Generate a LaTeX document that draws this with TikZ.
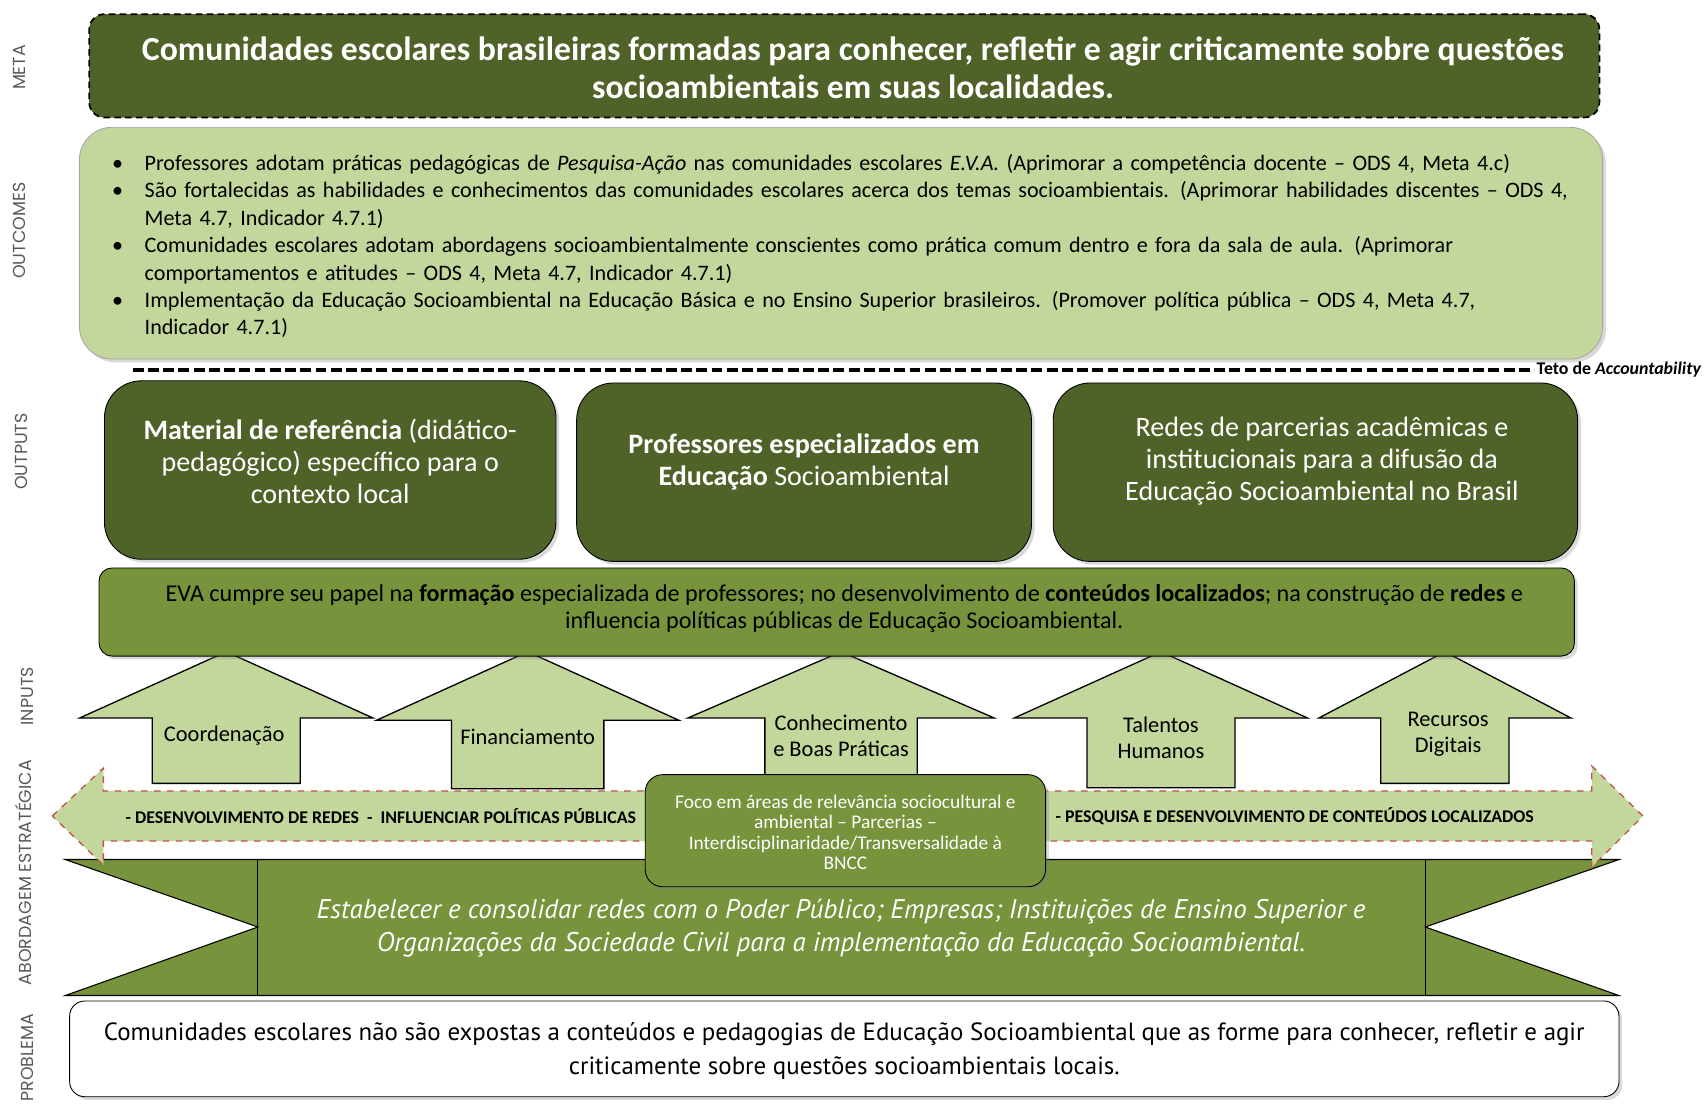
\documentclass[tikz,border=0pt]{standalone}
\usepackage{fontspec}
\setmainfont{Carlito}
\newfontfamily\sidefont{Poppins}
\newfontfamily\probfont{PT Sans}
\usetikzlibrary{shadows}
\definecolor{darkolive}{HTML}{4F6228}
\definecolor{lightolive}{HTML}{C3D69B}
\definecolor{midolive}{HTML}{77933C}
\definecolor{dashred}{HTML}{C0504D}
\definecolor{sidegray}{HTML}{595959}
\begin{document}
\begin{tikzpicture}[x=0.5pt,y=-0.5pt,
    boxshadow/.style={drop shadow={shadow xshift=1.5pt,shadow yshift=-1.5pt,opacity=0.3}},
    side/.style={rotate=90,font=\sidefont\fontsize{8}{9}\selectfont,text=sidegray},
    metabox/.style={draw=black,densely dashed,line width=0.8pt,fill=darkolive,rounded corners=7pt,inner sep=0pt},
    outcbox/.style={draw=gray!70,fill=lightolive,rounded corners=15pt,inner sep=0pt,boxshadow},
    outbox/.style={draw=black,fill=darkolive,rounded corners=17pt,inner sep=0pt,boxshadow},
    evabox/.style={draw=black,fill=midolive,rounded corners=6pt,inner sep=0pt,boxshadow},
    focobox/.style={draw=black,fill=midolive,rounded corners=8pt,inner sep=0pt,boxshadow},
    probbox/.style={draw=black,fill=white,rounded corners=7pt,inner sep=0pt,boxshadow},
    inarrow/.style={draw=black,fill=lightolive,line width=0.6pt},
    dblarrow/.style={draw=dashred,dashed,fill=lightolive,line width=0.6pt},
    ribbon/.style={draw=black,fill=midolive,line width=0.5pt},
    whitetxt/.style={text=white,align=center,inner sep=0pt},
    outtxt/.style={whitetxt,font=\fontsize{12.9}{14.75}\selectfont},
    intxt/.style={align=center,inner sep=0pt,font=\fontsize{10.3}{12}\selectfont},
    dbltxt/.style={inner sep=0pt,font=\bfseries\fontsize{8.2}{9}\selectfont}]
  \useasboundingbox (0,0) rectangle (1568,1017);
  \node[side] (lmeta) at (18,62) {META};
  \node[side] (loutc) at (18,212) {OUTCOMES};
  \node[side] (lout) at (20,415) {OUTPUTS};
  \node[side] (lin) at (25,640) {INPUTS};
  \node[side] (labord) at (22,802) {ABORDAGEM ESTRATÉGICA};
  \node[side] (lprob) at (25,972) {PROBLEMA};
  \node[metabox,minimum width=694pt,minimum height=47.5pt] (meta) at (776,60.5) {};
  \node[whitetxt,font=\bfseries\fontsize{15.5}{17.5}\selectfont] (metatxt) at (784,62)
    {Comunidades escolares brasileiras formadas para conhecer, refletir e agir criticamente sobre questões\\socioambientais em suas localidades.};
  \node[outcbox,minimum width=700pt,minimum height=106.5pt] (outc) at (773,223.5) {};
  \node[inner sep=0pt,text width=680pt,font=\fontsize{10.15}{12.6}\selectfont] (outctxt) at (783,221)
    {\begin{list}{\textbullet\hfill}{\leftmargin=15pt\labelwidth=15pt\labelsep=0pt\itemsep=0pt\topsep=0pt\parsep=0pt\partopsep=0pt}
     \item Professores adotam práticas pedagógicas de \textit{Pesquisa-Ação} nas comunidades escolares \textit{E.V.A.} (Aprimorar a competência docente – ODS 4, Meta 4.c)
     \item São fortalecidas as habilidades e conhecimentos das comunidades escolares acerca dos temas socioambientais. (Aprimorar habilidades discentes – ODS 4,\newline Meta 4.7, Indicador 4.7.1)
     \item Comunidades escolares adotam abordagens socioambientalmente conscientes como prática comum dentro e fora da sala de aula. (Aprimorar\newline comportamentos e atitudes – ODS 4, Meta 4.7, Indicador 4.7.1)
     \item Implementação da Educação Socioambiental na Educação Básica e no Ensino Superior brasileiros. (Promover política pública – ODS 4, Meta 4.7,\newline Indicador 4.7.1)
     \end{list}};
  \coordinate (tetoL) at (122,340);
  \coordinate (tetoR) at (1410,340);
  \draw[line width=1.5pt,dash pattern=on 5pt off 2pt] (tetoL) -- (tetoR);
  \node[anchor=west,inner sep=1pt,font=\bfseries\fontsize{8.2}{9}\selectfont] (teto) at (tetoR) {Teto de \textit{Accountability}};
  \node[outbox,minimum width=207.5pt,minimum height=82pt] (out1) at (303.5,432) {};
  \node[outbox,minimum width=209pt,minimum height=82pt] (out2) at (739,434) {};
  \node[outbox,minimum width=241pt,minimum height=82pt] (out3) at (1209,434) {};
  \node[outtxt] (out1txt) at (303.5,424) {\textbf{Material de referência} (didático-\\pedagógico) específico para o\\contexto local};
  \node[outtxt] (out2txt) at (739,425) {\textbf{Professores especializados em}\\\textbf{Educação} Socioambiental};
  \node[outtxt] (out3txt) at (1215,424) {Redes de parcerias acadêmicas e\\institucionais para a difusão da\\Educação Socioambiental no Brasil};
  \foreach \cx/\hy/\hw/\sw/\by in {208/660/135/68/720, 485/662/139/70/725, 773/660/141/70/712, 1067/660/135/68/724, 1328/660/116/59/720}
    \draw[inarrow] (\cx,599) -- (\cx+\hw,\hy) -- (\cx+\sw,\hy) -- (\cx+\sw,\by) -- (\cx-\sw,\by) -- (\cx-\sw,\hy) -- (\cx-\hw,\hy) -- cycle;
  \node[intxt] (coord) at (206,676) {Coordenação};
  \node[intxt] (finan) at (485,677) {Financiamento};
  \node[intxt] (conhec) at (773,676) {Conhecimento\\e Boas Práticas};
  \node[intxt] (talent) at (1067,678) {Talentos\\Humanos};
  \node[intxt] (recur) at (1331,675) {Recursos\\Digitais};
  \node[evabox,minimum width=678pt,minimum height=40.5pt] (eva) at (769,562.5) {};
  \node[inner sep=0pt,align=center,font=\fontsize{11.1}{12.5}\selectfont] (evatxt) at (776,559)
    {EVA cumpre seu papel na \textbf{formação} especializada de professores; no desenvolvimento de \textbf{conteúdos localizados}; na construção de \textbf{redes} e\\influencia políticas públicas de Educação Socioambiental.};
  \draw[ribbon] (60,790) -- (1488,790) -- (1310,852) -- (1488,915) -- (60,915) -- (237,852) -- cycle;
  \draw[line width=0.5pt] (237,790) -- (237,915) (1310,790) -- (1310,915);
  \node[whitetxt,font=\probfont\itshape\fontsize{12.4}{15}\selectfont] (ribtxt) at (773,853)
    {Estabelecer e consolidar redes com o Poder Público; Empresas; Instituições de Ensino Superior e\\Organizações da Sociedade Civil para a implementação da Educação Socioambiental.};
  \draw[dblarrow] (48,750) -- (95,706) -- (95,727) -- (1463,727) -- (1463,704) -- (1510,750) -- (1463,797) -- (1463,773) -- (95,773) -- (95,795) -- cycle;
  \node[dbltxt] (redes) at (350,750) {- DESENVOLVIMENTO DE REDES \ - \ INFLUENCIAR POLÍTICAS PÚBLICAS};
  \node[dbltxt] (pesq) at (1190,750) {- PESQUISA E DESENVOLVIMENTO DE CONTEÚDOS LOCALIZADOS};
  \node[focobox,minimum width=184pt,minimum height=51.5pt] (foco) at (777,763.5) {};
  \node[whitetxt,font=\fontsize{8.9}{9.2}\selectfont] (focotxt) at (777,765)
    {Foco em áreas de relevância sociocultural e\\ambiental – Parcerias –\\Interdisciplinaridade/Transversalidade à\\BNCC};
  \node[probbox,minimum width=712pt,minimum height=44pt] (prob) at (776,964) {};
  \node[inner sep=0pt,align=center,font=\probfont\fontsize{11.45}{16}\selectfont] (probtxt) at (776,966)
    {Comunidades escolares não são expostas a conteúdos e pedagogias de Educação Socioambiental que as forme para conhecer, refletir e agir\\criticamente sobre questões socioambientais locais.};
\end{tikzpicture}
\end{document}
